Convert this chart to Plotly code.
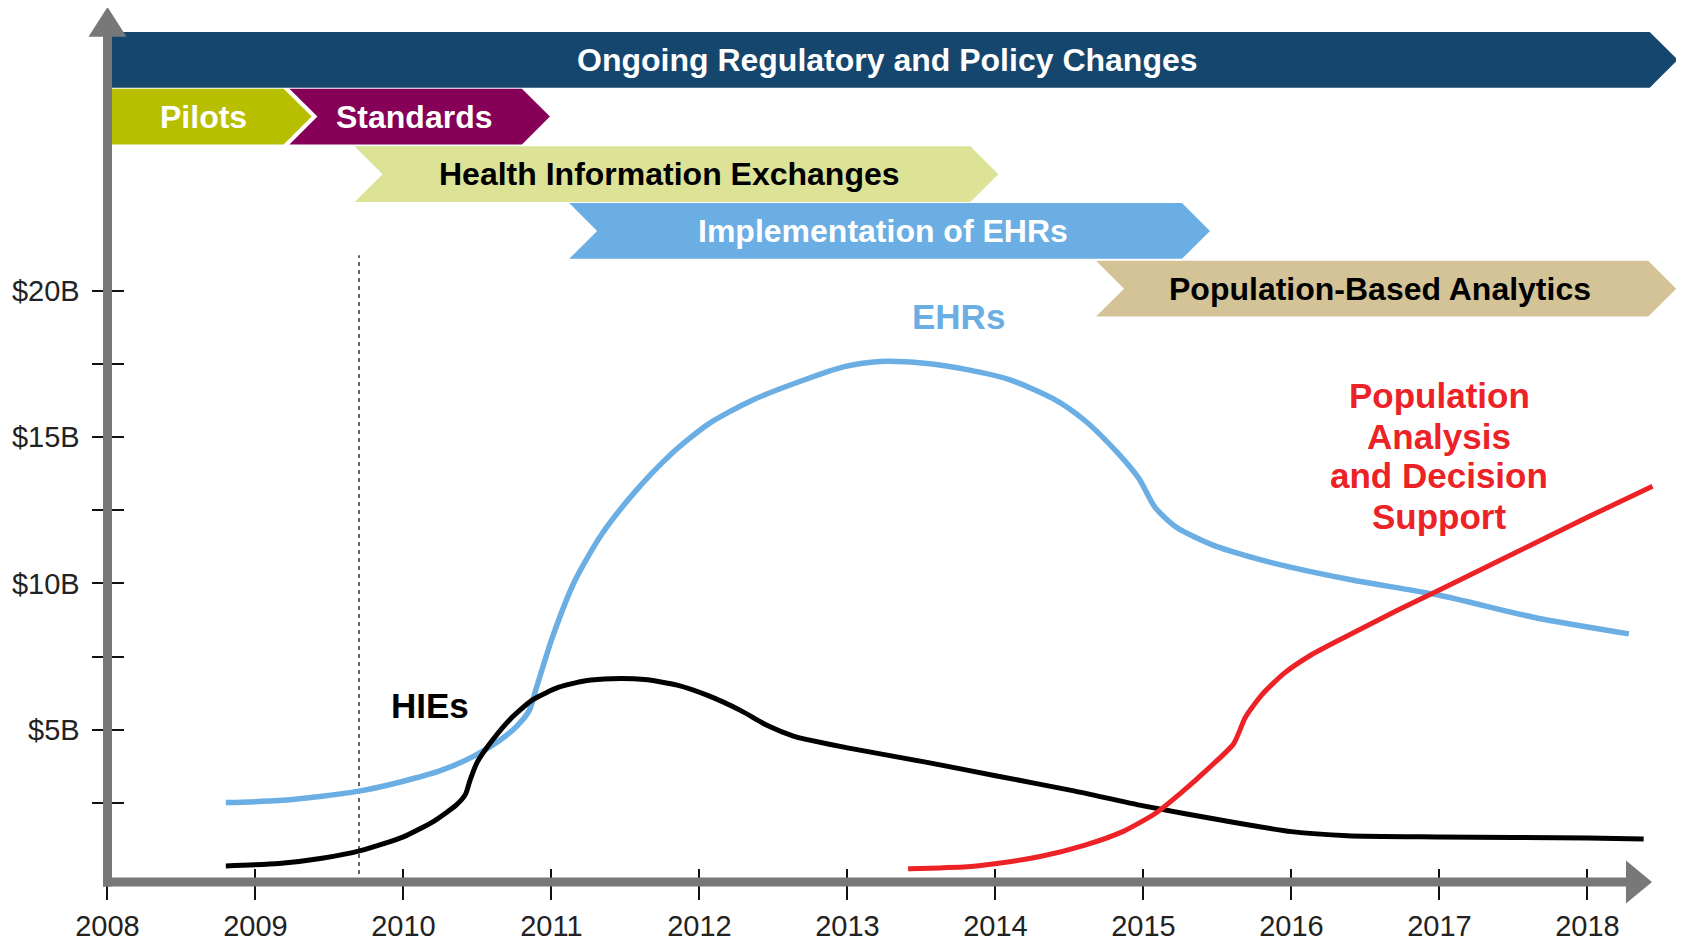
import plotly.graph_objects as go

# ---------------- data ----------------
year_ticks = [2008, 2009, 2010, 2011, 2012, 2013, 2014, 2015, 2016, 2017, 2018]
year_labels = [str(y) for y in year_ticks]
y_tick_vals = [2.5, 5, 7.5, 10, 12.5, 15, 17.5, 20]
y_tick_text = ["", "$5B", "", "$10B", "", "$15B", "", "$20B"]

# EHR spending ($B)
ehr_x = [2008.80, 2009.16, 2009.45, 2009.71, 2010.00, 2010.25, 2010.47, 2010.65, 2010.77,
         2010.85, 2010.90, 2011.01, 2011.16, 2011.34, 2011.56, 2011.81, 2012.06, 2012.35,
         2012.72, 2012.98, 2013.22, 2013.52, 2013.81, 2014.10, 2014.39, 2014.60, 2014.82,
         2014.97, 2015.08, 2015.22, 2015.47, 2015.77, 2016.00, 2016.42, 2017.00, 2017.65,
         2018.28]
ehr_y = [2.52, 2.59, 2.74, 2.92, 3.25, 3.61, 4.09, 4.64, 5.15,
         5.66, 6.46, 8.21, 10.11, 11.68, 13.10, 14.42, 15.44, 16.24,
         16.97, 17.40, 17.58, 17.52, 17.30, 16.95, 16.31, 15.58, 14.49,
         13.58, 12.59, 11.93, 11.31, 10.84, 10.55, 10.11, 9.60, 8.83,
         8.28]

# HIE spending ($B)
hie_x = [2008.80, 2009.16, 2009.45, 2009.71, 2010.00, 2010.21, 2010.36, 2010.42, 2010.45,
         2010.50, 2010.60, 2010.72, 2010.87, 2011.05, 2011.23, 2011.41, 2011.63, 2011.85,
         2012.06, 2012.28, 2012.46, 2012.64, 2012.73, 2013.01, 2013.52, 2014.01, 2014.53,
         2015.00, 2015.55, 2016.00, 2016.38, 2017.00, 2018.00, 2018.38]
hie_y = [0.36, 0.44, 0.62, 0.88, 1.35, 1.90, 2.45, 2.81, 3.28,
         3.91, 4.64, 5.36, 6.02, 6.46, 6.68, 6.75, 6.72, 6.53,
         6.17, 5.66, 5.15, 4.78, 4.67, 4.38, 3.91, 3.43, 2.92,
         2.41, 1.90, 1.53, 1.39, 1.35, 1.31, 1.28]

# Population analysis & decision support spending ($B)
pop_x = [2013.41, 2013.81, 2014.01, 2014.31, 2014.60, 2014.86, 2015.08, 2015.26, 2015.44,
         2015.61, 2015.69, 2015.80, 2015.95, 2016.13, 2016.35, 2016.71, 2017.00,
         2017.43, 2018.00, 2018.44]
pop_y = [0.26, 0.33, 0.44, 0.69, 1.06, 1.53, 2.15, 2.88, 3.69,
         4.53, 5.44, 6.20, 6.93, 7.55, 8.14, 9.07, 9.78,
         10.84, 12.26, 13.32]

# Phases (banners): start year, end year (arrow tip), row
phase_labels = ["Ongoing Regulatory and Policy Changes", "Pilots", "Standards",
                "Health Information Exchanges", "Implementation of EHRs",
                "Population-Based Analytics"]
phase_start = [2008.03, 2008.03, 2009.23, 2009.67, 2011.12, 2014.68]
phase_end = [2018.61, 2009.38, 2010.99, 2014.02, 2015.45, 2018.60]
phase_label_x = [2013.27, 2008.65, 2010.07, 2011.80, 2013.24, 2016.60]
phase_row = [0, 1, 1, 2, 3, 4]
phase_fill = ["#15466e", "#b8bf00", "#860057", "#dce397", "#6aaee4", "#d3c397"]
phase_text_color = ["white", "white", "white", "black", "white", "black"]

marker_year = 2009.70
marker_top = 21.2

# ---------------- geometry ----------------
# reference pixel frame is 1684x942; the page body adds a margin around the figure
OFF_X, OFF_Y = 8, 5
W, H = 1684 - 8, 942 - 8
REF_LEFT, REF_BOTTOM = 93, 883          # plot-area left / bottom in reference pixels
ML, MR, MT = REF_LEFT - OFF_X, 0, 0
MB = H - (REF_BOTTOM - OFF_Y)
PW, PH = W - ML - MR, H - MT - MB
PX_PER_YEAR = 148.0
PX_PER_B = 29.43
X0 = 2008 - (107.4 - REF_LEFT) / PX_PER_YEAR
X1 = X0 + PW / PX_PER_YEAR
Y0 = -0.19
Y1 = Y0 + PH / PX_PER_B


def py2y(py):
    return Y0 + (REF_BOTTOM - py) / PX_PER_B


def px2p(px):
    return (px - REF_LEFT) / PW


def py2p(py):
    return (REF_BOTTOM - py) / PH


FONT = "Liberation Sans, Arial, sans-serif"
AXIS_GREY = "#787878"

fig = go.Figure()

fig.add_trace(go.Scatter(x=ehr_x, y=ehr_y, mode="lines",
                         line=dict(color="#6aaee4", width=5.5, shape="spline", smoothing=0.7),
                         hoverinfo="skip"))
fig.add_trace(go.Scatter(x=hie_x, y=hie_y, mode="lines",
                         line=dict(color="black", width=5, shape="spline", smoothing=0.6),
                         hoverinfo="skip"))
fig.add_trace(go.Scatter(x=pop_x, y=pop_y, mode="lines",
                         line=dict(color="#ec2227", width=5, shape="spline", smoothing=0.6),
                         hoverinfo="skip"))
# carrier trace for the overlay axes (inner tick marks)
fig.add_trace(go.Scatter(x=[None], y=[None], xaxis="x2", yaxis="y2", hoverinfo="skip"))

shapes = []
# dashed marker line
shapes.append(dict(type="line", xref="x", yref="y", x0=marker_year, x1=marker_year,
                   y0=Y0, y1=marker_top, line=dict(color="#333", width=1.5, dash="4px,4px"),
                   layer="below"))

# banners
row_top_px = [29, 86, 144, 201, 259]
row_h_px = 56
depth = 28 / PX_PER_YEAR
annotations = []
for lab, s, e, lx, r, fc, tc in zip(phase_labels, phase_start, phase_end, phase_label_x,
                                    phase_row, phase_fill, phase_text_color):
    yt = py2y(row_top_px[r])
    yb = py2y(row_top_px[r] + row_h_px)
    ym = (yt + yb) / 2
    body = e - depth
    path = f"M{s},{yt} L{body},{yt} L{e},{ym} L{body},{yb} L{s},{yb}"
    if s > 2008.1:
        path += f" L{s + depth},{ym}"
    path += " Z"
    shapes.append(dict(type="path", xref="x", yref="y", path=path, fillcolor=fc,
                       line=dict(width=0), layer="below"))
    annotations.append(dict(x=lx, y=ym, xref="x", yref="y", text=f"<b>{lab}</b>",
                            showarrow=False, xanchor="center", yanchor="middle",
                            font=dict(family=FONT, size=32, color=tc)))

# axis lines with arrowheads (paper coords from reference pixel geometry)
yax_px = 107.5
xax_py = 883.0
lw = 9
y_path = (f"M{px2p(yax_px - lw/2)},{py2p(xax_py + lw/2)} "
          f"L{px2p(yax_px - lw/2)},{py2p(34)} L{px2p(yax_px - 19)},{py2p(34)} "
          f"L{px2p(yax_px)},{py2p(4)} L{px2p(yax_px + 19)},{py2p(34)} "
          f"L{px2p(yax_px + lw/2)},{py2p(34)} L{px2p(yax_px + lw/2)},{py2p(xax_py + lw/2)} Z")
x_path = (f"M{px2p(yax_px - lw/2)},{py2p(xax_py - lw/2)} "
          f"L{px2p(1626)},{py2p(xax_py - lw/2)} L{px2p(1626)},{py2p(xax_py - 21.5)} "
          f"L{px2p(1652)},{py2p(xax_py)} L{px2p(1626)},{py2p(xax_py + 21.5)} "
          f"L{px2p(1626)},{py2p(xax_py + lw/2)} L{px2p(yax_px - lw/2)},{py2p(xax_py + lw/2)} Z")
for p in (y_path, x_path):
    shapes.append(dict(type="path", xref="paper", yref="paper", path=p,
                       fillcolor=AXIS_GREY, line=dict(width=0), layer="above"))

# curve labels
annotations.append(dict(x=2013.75, y=19.1, xref="x", yref="y", text="<b>EHRs</b>",
                        showarrow=False, font=dict(family=FONT, size=35, color="#6aaee4")))
annotations.append(dict(x=2010.18, y=5.84, xref="x", yref="y", text="<b>HIEs</b>",
                        showarrow=False, font=dict(family=FONT, size=35, color="black")))
pop_lines = ["Population", "Analysis", "and Decision", "Support"]
pop_line_y = [16.43, 15.03, 13.67, 12.30]
for t, yv in zip(pop_lines, pop_line_y):
    annotations.append(dict(x=2017.0, y=yv, xref="x", yref="y", text=f"<b>{t}</b>",
                            showarrow=False, font=dict(family=FONT, size=35, color="#ec2227")))

tickfont = dict(family=FONT, size=29, color="#222")
fig.update_layout(
    width=W, height=H,
    margin=dict(l=ML, r=MR, t=MT, b=MB, pad=0),
    paper_bgcolor="white", plot_bgcolor="white",
    showlegend=False,
    shapes=shapes, annotations=annotations,
    xaxis=dict(range=[X0, X1], tickvals=year_ticks, ticktext=year_labels,
               ticks="outside", ticklen=17, tickwidth=1.5, tickcolor="#111",
               showgrid=False, zeroline=False, showline=False, tickfont=tickfont,
               anchor="y", ticklabelstandoff=1),
    xaxis2=dict(range=[X0, X1], tickvals=year_ticks, overlaying="x", anchor="y", side="bottom",
                ticks="inside", ticklen=13, tickwidth=1.5, tickcolor="#111",
                showticklabels=False, showgrid=False, zeroline=False, showline=False),
    yaxis=dict(range=[Y0, Y1], tickvals=y_tick_vals, ticktext=y_tick_text,
               ticks="outside", ticklen=16, tickwidth=1.5, tickcolor="#111",
               showgrid=False, zeroline=False, showline=False, tickfont=tickfont,
               anchor="free", position=px2p(yax_px), ticklabelstandoff=6),
    yaxis2=dict(range=[Y0, Y1], tickvals=y_tick_vals, overlaying="y", anchor="free",
                position=px2p(yax_px), side="left",
                ticks="inside", ticklen=15, tickwidth=1.5, tickcolor="#111",
                showticklabels=False, showgrid=False, zeroline=False, showline=False),
)

fig.write_html("out.html")
